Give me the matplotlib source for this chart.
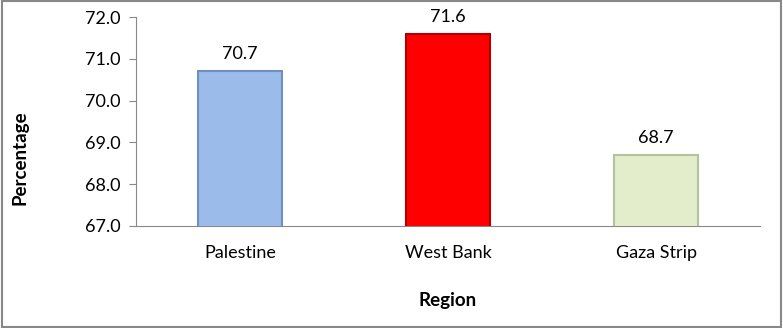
import matplotlib.pyplot as plt
from matplotlib.patches import Rectangle

regions = ["Palestine", "West Bank", "Gaza Strip"]
percentages = [70.7, 71.6, 68.7]
bar_colors = ["#9bbbeb", "#ff0000", "#e3edcc"]
edge_colors = ["#6f8fc0", "#b00000", "#b5c39a"]

plt.rcParams['font.family'] = ['Lato', 'DejaVu Sans']

fig = plt.figure(figsize=(7.83, 3.28), dpi=100)
ax = fig.add_axes([0.1737, 0.311, 0.797, 0.637])

x = range(len(regions))
bars = ax.bar(x, percentages, width=0.4, color=bar_colors,
              edgecolor=edge_colors, linewidth=1.5, zorder=3)

for b, v in zip(bars, percentages):
    ax.text(b.get_x() + b.get_width() / 2, v + 0.22, f"{v:.1f}",
            ha='center', va='bottom', fontsize=13)

ax.set_xlim(-0.5, 2.5)
ax.set_ylim(67, 72)
ax.set_yticks([67, 68, 69, 70, 71, 72])
ax.set_yticklabels([f"{t:.1f}" for t in [67, 68, 69, 70, 71, 72]], fontsize=13)
ax.set_xticks(list(x))
ax.set_xticklabels(regions, fontsize=13)
ax.tick_params(axis='x', length=0, pad=14)
ax.tick_params(axis='y', length=5, color='#888888', direction='out', pad=6)

for s in ['top', 'right']:
    ax.spines[s].set_visible(False)
ax.spines['left'].set_color('#888888')
ax.spines['bottom'].set_color('#888888')

ax.set_ylabel("Percentage", fontsize=13.5, fontweight='bold')
# label sits a bit below the axis middle in the original
ax.yaxis.set_label_coords(-0.172, 0.325)
ax.set_xlabel("Region", fontsize=13.5, fontweight='bold', labelpad=22)

fig.patches.append(Rectangle((0.002, 0.003), 0.995, 0.993, transform=fig.transFigure,
                             fill=False, edgecolor='#888888', linewidth=1.5))

fig.savefig("out.png", dpi=100)
